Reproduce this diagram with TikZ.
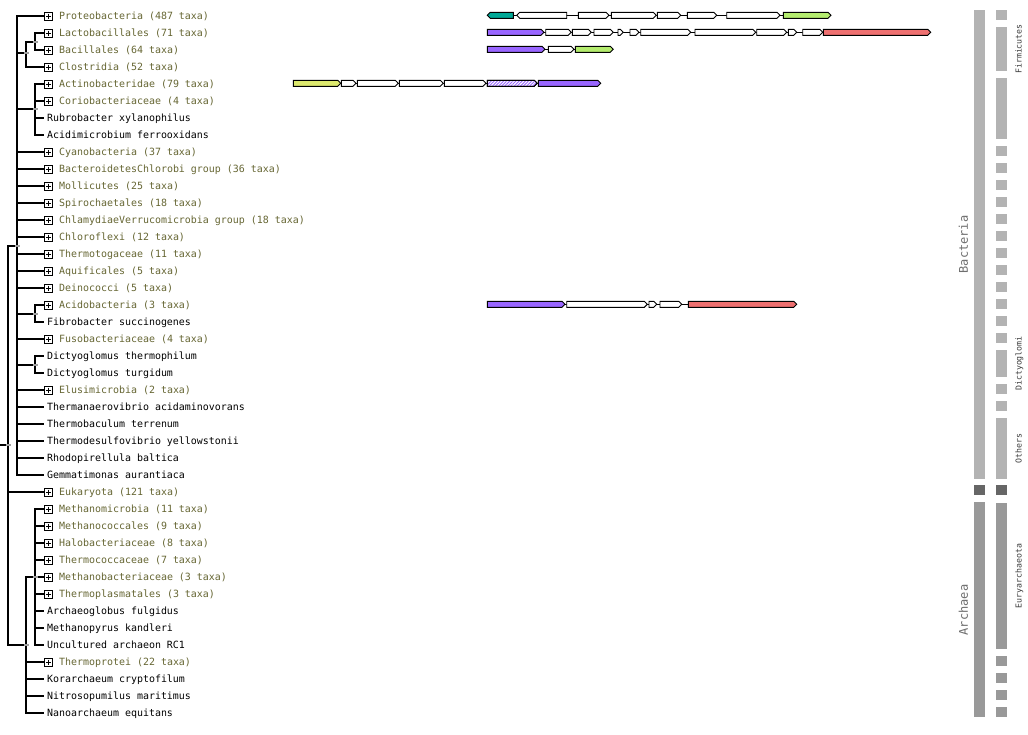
\documentclass[tikz,border=0pt]{standalone}
\usepackage{fontspec}
\newfontfamily\lmono{DejaVu Sans Mono}
\newfontfamily\dmono{DejaVu Sans Mono}
\usetikzlibrary{patterns.meta}
\definecolor{olivetxt}{RGB}{102,102,51}
\definecolor{gteal}{RGB}{0,168,150}
\definecolor{gpurple}{RGB}{153,102,255}
\definecolor{ggreen}{RGB}{180,236,110}
\definecolor{gred}{RGB}{238,112,112}
\definecolor{gyellow}{RGB}{221,233,110}
\definecolor{barB}{RGB}{179,179,179}
\definecolor{barE}{RGB}{102,102,102}
\definecolor{barA}{RGB}{153,153,153}
\definecolor{mkgray}{RGB}{160,160,160}
\definecolor{lblgray}{RGB}{110,110,110}
\definecolor{lbldark}{RGB}{60,60,60}
\newcommand\genR[4][fill=white]{\draw[gene,#1] (#2,#4-3) -- (#3-3,#4-3) -- (#3,#4) -- (#3-3,#4+3) -- (#2,#4+3) -- cycle;}
\newcommand\genL[4][fill=white]{\draw[gene,#1] (#2,#4) -- (#2+3,#4-3) -- (#3,#4-3) -- (#3,#4+3) -- (#2+3,#4+3) -- cycle;}
\tikzset{
  tree/.style={line width=2pt, draw=black},
  gene/.style={draw=black, line width=0.9pt, line join=miter},
  gline/.style={draw=black, line width=0.9pt},
  grptxt/.style={anchor=west, inner sep=0pt, text=olivetxt, font=\lmono\fontsize{9.95}{10}\selectfont, text height=7pt, text depth=0pt},
  leaftxt/.style={anchor=west, inner xsep=3pt, inner ysep=0pt, text=black, font=\lmono\fontsize{9.95}{10}\selectfont, text height=7pt, text depth=0pt},
  pbox/.style={draw, line width=1pt, minimum size=8pt, inner sep=0pt, fill=white,
    path picture={\draw[line width=1pt] (path picture bounding box.west) ++(1.5pt,0) -- ++(5pt,0)
      (path picture bounding box.north) ++(0,-1.5pt) -- ++(0,-5pt);}},
  nodemk/.style={fill=mkgray, minimum width=5pt, minimum height=2pt, inner sep=0pt},
  biglbl/.style={rotate=90, inner sep=0pt, text=lblgray, font=\dmono\fontsize{12}{12}\selectfont, text height=8.7pt, text depth=0pt},
  smalllbl/.style={rotate=90, inner sep=0pt, text=lbldark, font=\dmono\fontsize{8.2}{8.2}\selectfont, text height=6pt, text depth=0pt},
}
\begin{document}
\begin{tikzpicture}[x=1pt,y=-1pt]
\useasboundingbox (0,0) rectangle (1028,734);
\fill[white] (0,0) rectangle (1028,734);
% internal tree nodes
\coordinate (Rs) at (0,445);
\coordinate (R) at (8,445);
\coordinate (B) at (17,245.5);
\coordinate (F) at (26,53);
\coordinate (LB) at (35,41.5);
\coordinate (AC) at (35,109);
\coordinate (AF) at (35,313.5);
\coordinate (D) at (35,364.5);
\coordinate (A) at (26,645);
\coordinate (E) at (35,576.5);
\draw[tree] (Rs) -- (R);
\draw[tree] (R) |- (B);
\draw[tree] (R) |- (A);
\draw[tree] (B) |- (F);
\draw[tree] (F) |- (LB);
\draw[tree] (B) |- (AC);
\draw[tree] (B) |- (AF);
\draw[tree] (B) |- (D);
\draw[tree] (A) |- (E);
% collapsed groups
\foreach \i/\p/\t in {0/B/Proteobacteria (487 taxa),1/LB/Lactobacillales (71 taxa),2/LB/Bacillales (64 taxa),3/F/Clostridia (52 taxa),4/AC/Actinobacteridae (79 taxa),5/AC/Coriobacteriaceae (4 taxa),8/B/Cyanobacteria (37 taxa),9/B/BacteroidetesChlorobi group (36 taxa),10/B/Mollicutes (25 taxa),11/B/Spirochaetales (18 taxa),12/B/ChlamydiaeVerrucomicrobia group (18 taxa),13/B/Chloroflexi (12 taxa),14/B/Thermotogaceae (11 taxa),15/B/Aquificales (5 taxa),16/B/Deinococci (5 taxa),17/AF/Acidobacteria (3 taxa),19/B/Fusobacteriaceae (4 taxa),22/B/Elusimicrobia (2 taxa),28/R/Eukaryota (121 taxa),29/E/Methanomicrobia (11 taxa),30/E/Methanococcales (9 taxa),31/E/Halobacteriaceae (8 taxa),32/E/Thermococcaceae (7 taxa),33/E/Methanobacteriaceae (3 taxa),34/E/Thermoplasmatales (3 taxa),38/A/Thermoprotei (22 taxa)}{
  \pgfmathsetmacro\y{16+17*\i}
  \node[pbox] (L\i) at (48.5,\y) {};
  \draw[tree] (\p) |- (L\i.west);
  \node[grptxt] (T\i) at (59,\y) {\t};
}
% single taxa
\foreach \i/\p/\t in {6/AC/Rubrobacter xylanophilus,7/AC/Acidimicrobium ferrooxidans,18/AF/Fibrobacter succinogenes,20/D/Dictyoglomus thermophilum,21/D/Dictyoglomus turgidum,23/B/Thermanaerovibrio acidaminovorans,24/B/Thermobaculum terrenum,25/B/Thermodesulfovibrio yellowstonii,26/B/Rhodopirellula baltica,27/B/Gemmatimonas aurantiaca,35/E/Archaeoglobus fulgidus,36/E/Methanopyrus kandleri,37/E/Uncultured archaeon RC1,39/A/Korarchaeum cryptofilum,40/A/Nitrosopumilus maritimus,41/A/Nanoarchaeum equitans}{
  \pgfmathsetmacro\y{16+17*\i}
  \node[leaftxt] (L\i) at (44,\y) {\t};
  \draw[tree] (\p) |- (L\i.west);
}
% node markers
\foreach \n in {R,B,F,LB,AC,AF,D,A,E}{
  \node[nodemk] (m\n) at (\n) {};
}
% gene neighbourhoods
% row 0
\draw[gline] (487.3,15.3) -- (831,15.3);
\genL[fill=gteal]{487.3}{513.3}{15.3}
\genL{516.7}{566.7}{15.3}
\genR{578.3}{609}{15.3}
\genR{611.3}{656.3}{15.3}
\genR{657.3}{680.7}{15.3}
\genR{687.3}{716.7}{15.3}
\genR{726.7}{780}{15.3}
\genR[fill=ggreen]{783.3}{831}{15.3}
% row 1
\draw[gline] (487.3,32.3) -- (930.7,32.3);
\genR[fill=gpurple]{487.3}{544}{32.3}
\genR{545.7}{571.3}{32.3}
\genR{572.3}{591.3}{32.3}
\genR{594}{613.3}{32.3}
\genR{618}{623.3}{32.3}
\genR{630}{639}{32.3}
\genR{640.7}{690.7}{32.3}
\genR{695}{755.7}{32.3}
\genR{756.7}{786.7}{32.3}
\genR{788.3}{796.7}{32.3}
\genR{802.7}{822.7}{32.3}
\genR[fill=gred]{823.3}{930.7}{32.3}
% row 2
\draw[gline] (487.3,49.3) -- (613.3,49.3);
\genR[fill=gpurple]{487.3}{545}{49.3}
\genR{548.3}{574}{49.3}
\genR[fill=ggreen]{575.3}{613.3}{49.3}
% row 4
\draw[gline] (293.3,83.3) -- (600.7,83.3);
\genR[fill=gyellow]{293.3}{340.7}{83.3}
\genR{341.3}{356}{83.3}
\genR{357.3}{398.3}{83.3}
\genR{399.3}{443.3}{83.3}
\genR{444.3}{486}{83.3}
\genR[fill=white]{487.3}{537.3}{83.3}
\genR[pattern={Lines[angle=45,distance=2.2pt,line width=0.9pt]},pattern color=gpurple]{487.3}{537.3}{83.3}
\genR[fill=gpurple]{538.3}{600.7}{83.3}
% row 17
\draw[gline] (487.3,304.3) -- (796.7,304.3);
\genR[fill=gpurple]{487.3}{565}{304.3}
\genR{566.7}{647.3}{304.3}
\genR{649}{656.7}{304.3}
\genR{660}{681.7}{304.3}
\genR[fill=gred]{688.3}{796.7}{304.3}
% classification bars, column 1
\fill[barB] (974,10) rectangle (985,479);
\fill[barE] (974,485) rectangle (985,495);
\fill[barA] (974,502) rectangle (985,717);
% column 2
\foreach \a/\b in {0/0,1/3,4/7,8/8,9/9,10/10,11/11,12/12,13/13,14/14,15/15,16/16,17/17,18/18,19/19,20/21,22/22,23/23,24/27}{
  \fill[barB] (996,16+17*\a-6) rectangle (1007,16+17*\b+4);
}
\fill[barE] (996,485) rectangle (1007,495);
\foreach \a/\b in {29/37,38/38,39/39,40/40,41/41}{
  \fill[barA] (996,16+17*\a-6) rectangle (1007,16+17*\b+4);
}
\node[biglbl] (lblBac) at (963.5,244.5) {Bacteria};
\node[biglbl] (lblArc) at (963.5,610) {Archaea};
\node[smalllbl] (lblFir) at (1018.5,49) {Firmicutes};
\node[smalllbl] (lblDic) at (1018.5,363.5) {Dictyoglomi};
\node[smalllbl] (lblOth) at (1018.5,448.5) {Others};
\node[smalllbl] (lblEur) at (1018.5,576) {Euryarchaeota};
\end{tikzpicture}
\end{document}
